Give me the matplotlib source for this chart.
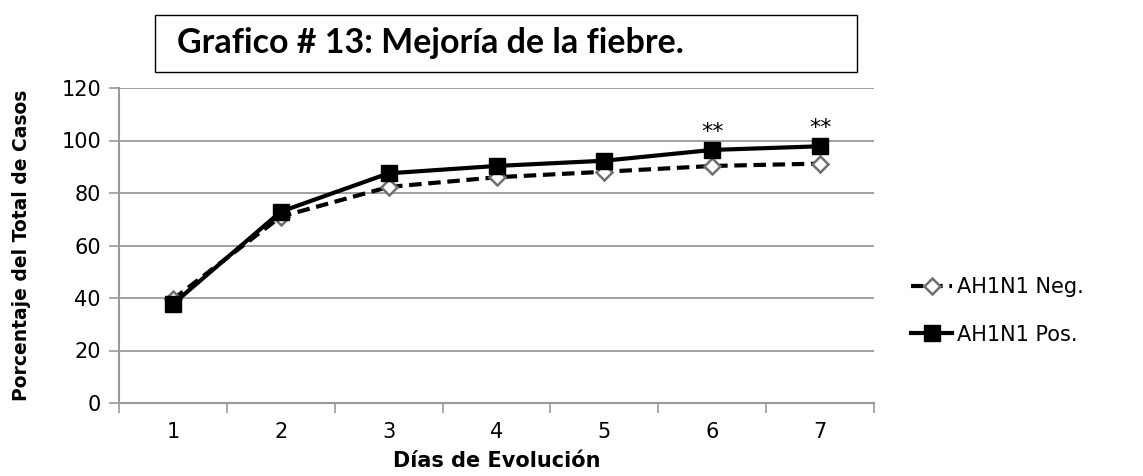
import matplotlib
matplotlib.use("Agg")
import matplotlib.pyplot as plt
from matplotlib.patches import Rectangle
from matplotlib.lines import Line2D

categories = ["1", "2", "3", "4", "5", "6", "7"]
neg_values = [39.5, 71, 82.3, 86, 88.1, 90.3, 91.2]
pos_values = [37.7, 72.9, 87.5, 90.3, 92.3, 96.4, 97.8]
yticks = [0, 20, 40, 60, 80, 100, 120]
star_labels = ["", "", "", "", "", "**", "**"]
title = "Grafico # 13: Mejoría de la fiebre."
xlabel = "Días de Evolución"
ylabel = "Porcentaje del Total de Casos"
series_names = ["AH1N1 Neg.", "AH1N1 Pos."]

fig = plt.figure(figsize=(11.43, 4.76), dpi=100)
W, H = 1143, 476
ax = fig.add_axes([119 / W, 1 - 403 / H, (874 - 119) / W, (403 - 88) / H])

x = list(range(len(categories)))
grey = "#9a9a9a"

ax.plot(x, neg_values, color="black", lw=3, dashes=(3, 1.6),
        marker="D", markersize=8, markerfacecolor="white",
        markeredgecolor="#707070", markeredgewidth=1.8, zorder=3)
ax.plot(x, pos_values, color="black", lw=3, marker="s", markersize=12,
        markerfacecolor="black", markeredgecolor="black", zorder=4)

for xi, yi, s in zip(x, pos_values, star_labels):
    if s:
        ax.text(xi, yi + 3.0, s, ha="center", va="bottom", fontsize=16,
                family="DejaVu Sans")

ax.set_xlim(-0.5, len(categories) - 0.5)
ax.set_ylim(0, 120)
ax.set_yticks(yticks)
ax.set_yticklabels([str(v) for v in yticks], fontsize=15)
ax.set_xticks(x)
ax.set_xticklabels(categories, fontsize=15)
ax.set_xticks([i - 0.5 for i in range(len(categories) + 1)], minor=True)
ax.tick_params(axis="x", which="major", length=0, pad=14)
ax.tick_params(axis="x", which="minor", length=7, color=grey, width=1.2)
ax.tick_params(axis="y", which="major", length=7, color=grey, width=1.2, pad=6)

ax.grid(axis="y", color=grey, lw=1.3)
ax.set_axisbelow(True)
for side in ["top", "right"]:
    ax.spines[side].set_visible(False)
for side in ["left", "bottom"]:
    ax.spines[side].set_color(grey)
    ax.spines[side].set_linewidth(1.5)

ax.set_xlabel(xlabel, fontsize=15, fontweight="bold", labelpad=6)
ax.set_ylabel(ylabel, fontsize=13.5, fontweight="bold")
ax.yaxis.set_label_coords((31 - 119) / (874 - 119), 0.5)

# Title box
fig.patches.append(Rectangle((155 / W, 1 - 72 / H), (857 - 155) / W, 57 / H,
                             transform=fig.transFigure, facecolor="white",
                             edgecolor="black", lw=1.0))
fig.text(177 / W, 1 - 53 / H, title, fontsize=24.5, fontweight="bold",
         family="Lato", va="baseline", ha="left")

handles = [
    Line2D([], [], color="black", lw=3, dashes=(3, 1.6), marker="D",
           markersize=8, markerfacecolor="white", markeredgecolor="#707070",
           markeredgewidth=1.8),
    Line2D([], [], color="black", lw=3, marker="s", markersize=12,
           markerfacecolor="black"),
]
fig.legend(handles, series_names, loc="center left",
           bbox_to_anchor=(892 / W, 1 - 311 / H), frameon=False, fontsize=15,
           handlelength=2.0, handletextpad=0.2, labelspacing=1.3)

fig.savefig("out.png", dpi=100)
